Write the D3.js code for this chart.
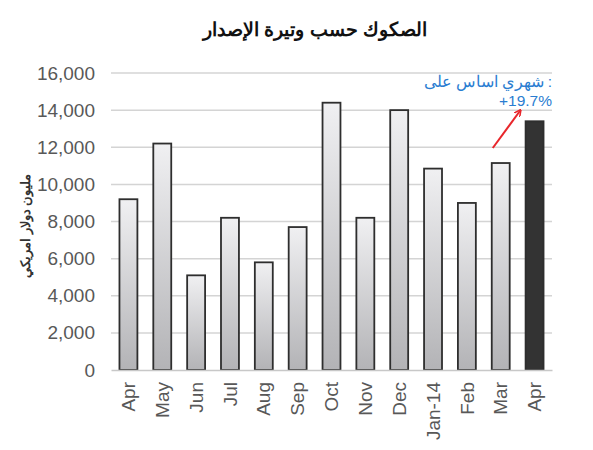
<!DOCTYPE html>
<html>
<head>
<meta charset="utf-8">
<script src="https://cdn.jsdelivr.net/npm/d3@7"></script>
<style>
  body { margin: 0; background: #fff; }
</style>
</head>
<body>
<div id="wrapper"></div>
<script>
const months = ["Apr", "May", "Jun", "Jul", "Aug", "Sep", "Oct", "Nov", "Dec", "Jan-14", "Feb", "Mar", "Apr"];
const issuance = [9200, 12200, 5100, 8200, 5800, 7700, 14400, 8200, 14000, 10850, 9000, 11150, 13400];
const yTicks = [0, 2000, 4000, 6000, 8000, 10000, 12000, 14000, 16000];
const title = "الصكوك حسب وتيرة الإصدار";
const yLabel = "مليون دولار امريكي";
// the source image lays these words out left to right
const noteWords = ["على", "اساس", "شهري", ":"];
const noteChange = "+19.7%";

const width = 593
const height = 450
let dimensions = {
    width: width,
    height: height,
    margin: { top: 73, right: 41, bottom: 80, left: 111 },
}
dimensions.boundedWidth = dimensions.width - dimensions.margin.left - dimensions.margin.right
dimensions.boundedHeight = dimensions.height - dimensions.margin.top - dimensions.margin.bottom

const svg = d3.select("#wrapper")
    .append("svg")
    .attr("width", dimensions.width)
    .attr("height", dimensions.height)
    .style("font-family", "Arial, 'Liberation Sans', sans-serif");

const defs = svg.append("defs");
const grad = defs.append("linearGradient")
    .attr("id", "barGrad")
    .attr("x1", 0).attr("y1", 0).attr("x2", 0).attr("y2", 1);
grad.append("stop").attr("offset", "0%").attr("stop-color", "#f0f0f2");
grad.append("stop").attr("offset", "100%").attr("stop-color", "#b3b3b6");

// title
svg.append("text")
    .attr("x", 315)
    .attr("y", 36)
    .attr("text-anchor", "middle")
    .attr("font-size", "19px")
    .attr("font-weight", "bold")
    .attr("fill", "#111")
    .text(title);

const bounds = svg.append("g")
    .attr("transform", `translate(${dimensions.margin.left},${dimensions.margin.top})`);

const xScaler = d3.scaleBand()
    .domain(d3.range(months.length))
    .range([0, dimensions.boundedWidth])
    .paddingInner(0.47)
    .paddingOuter(0.25)

const yScaler = d3.scaleLinear()
    .domain([0, 16000])
    .range([dimensions.boundedHeight, 0])

// gridlines
bounds.append("g")
    .selectAll("line")
    .data(yTicks.slice(1))
    .enter()
    .append("line")
    .attr("x1", 0)
    .attr("x2", dimensions.boundedWidth)
    .attr("y1", d => yScaler(d))
    .attr("y2", d => yScaler(d))
    .attr("stroke", "#d4d4d4")
    .attr("stroke-width", 1.5);

// bars
bounds.append("g")
    .selectAll("rect")
    .data(issuance)
    .enter()
    .append("rect")
    .attr("x", (d, i) => xScaler(i))
    .attr("y", d => yScaler(d))
    .attr("width", xScaler.bandwidth())
    .attr("height", d => dimensions.boundedHeight - yScaler(d))
    .attr("fill", (d, i) => i == issuance.length - 1 ? "#333333" : "url(#barGrad)")
    .attr("stroke", "#2e2e2e")
    .attr("stroke-width", 1.8);

// y axis
const yAxisGen = d3.axisLeft(yScaler)
    .tickValues(yTicks)
    .tickSize(0)
    .tickPadding(16)
    .tickFormat(d3.format(","));
const yAxis = bounds.append("g").call(yAxisGen);
yAxis.select(".domain").remove();
yAxis.selectAll("text")
    .attr("font-size", "19px")
    .attr("fill", "#585858")
    .attr("font-family", "Arial, 'Liberation Sans', sans-serif");

// x axis
const xAxisGen = d3.axisBottom(xScaler)
    .tickSize(0)
    .tickFormat(i => months[i]);
const xAxis = bounds.append("g")
    .attr("transform", `translate(0,${dimensions.boundedHeight})`)
    .call(xAxisGen);
xAxis.select(".domain")
    .attr("stroke", "#c8c8c8")
    .attr("stroke-width", 1.5);
xAxis.selectAll("text")
    .attr("font-size", "19px")
    .attr("fill", "#585858")
    .attr("font-family", "Arial, 'Liberation Sans', sans-serif")
    .attr("text-anchor", "end")
    .attr("dy", "0.35em")
    .attr("transform", "translate(0,12) rotate(-90)")
    .attr("x", 0)
    .attr("y", 0);

// y label
svg.append("text")
    .attr("transform", "translate(30,226) rotate(-90)")
    .attr("text-anchor", "middle")
    .attr("font-size", "13px")
    .attr("font-weight", "bold")
    .attr("fill", "#333")
    .text(yLabel);

// annotation: words placed one by one from the right edge
const noteX = xScaler.range()[1] + dimensions.margin.left;
const noteG = svg.append("g")
    .attr("font-size", "15.5px")
    .attr("fill", "#2a7dd1");
const wordTexts = noteG.selectAll("text.word")
    .data(noteWords)
    .enter()
    .append("text")
    .attr("class", "word")
    .attr("y", 87)
    .attr("text-anchor", "end")
    .text(d => d);
let cursor = noteX;
const wordNodes = wordTexts.nodes();
for (let i = wordNodes.length - 1; i >= 0; i--) {
    d3.select(wordNodes[i]).attr("x", cursor);
    cursor -= wordNodes[i].getComputedTextLength() + 4;
}
noteG.append("text")
    .attr("x", noteX)
    .attr("y", 106)
    .attr("text-anchor", "end")
    .text(noteChange);

// arrow from Mar bar to note
const last = issuance.length - 1;
const ax1 = dimensions.margin.left + xScaler(last - 1) + 1;
const ay1 = dimensions.margin.top + yScaler(issuance[last - 1]) - 15;
const ax2 = dimensions.margin.left + xScaler(last) - 5;
const ay2 = 110;
defs.append("marker")
    .attr("id", "arrowHead")
    .attr("viewBox", "0 0 10 10")
    .attr("refX", 9).attr("refY", 5)
    .attr("markerWidth", 7).attr("markerHeight", 7)
    .attr("markerUnits", "userSpaceOnUse")
    .attr("orient", "auto")
    .append("path")
    .attr("d", "M0,0 L10,5 L0,10")
    .attr("fill", "none")
    .attr("stroke", "#e8262b")
    .attr("stroke-width", 2.2);
svg.append("line")
    .attr("x1", ax1).attr("y1", ay1)
    .attr("x2", ax2).attr("y2", ay2)
    .attr("stroke", "#e8262b")
    .attr("stroke-width", 2)
    .attr("marker-end", "url(#arrowHead)");
</script>
</body>
</html>
